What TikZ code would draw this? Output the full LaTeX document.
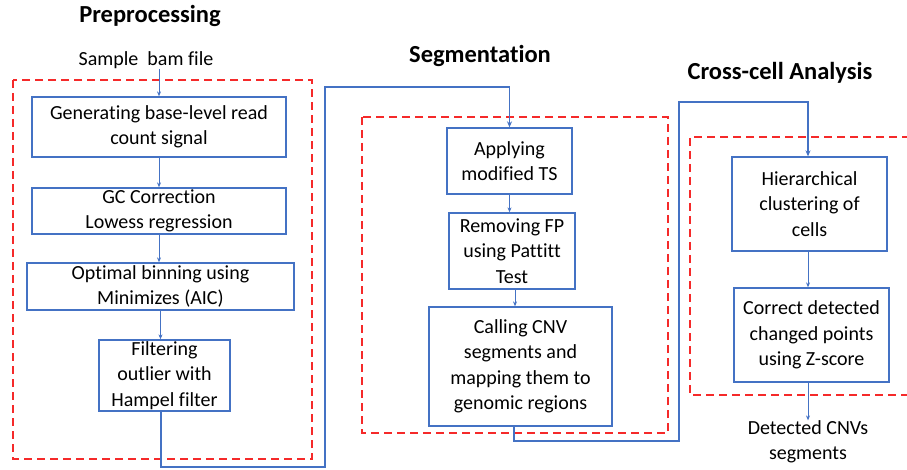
\documentclass[tikz,border=0pt]{standalone}
\usepackage{fontspec}
\setmainfont[Ligatures=CommonOff]{Carlito}
\usetikzlibrary{arrows.meta}
\definecolor{bl}{HTML}{4472C4}
\definecolor{rd}{HTML}{F52A2A}
\begin{document}
\begin{tikzpicture}[x=1pt,y=-1pt,
  box/.style={draw=bl, line width=1.3pt, align=center, inner sep=0pt, font=\fontsize{20}{25.5}\selectfont},
  grp/.style={draw=rd, line width=1.8pt, dash pattern=on 8pt off 5pt},
  flow/.style={draw=bl, line width=1.6pt, -{Stealth[length=6pt,width=5pt]}},
  arr/.style={draw=bl, line width=1pt, -{Stealth[length=5pt,width=4pt]}},
  ttl/.style={font=\fontsize{24.5}{28}\selectfont\bfseries, inner sep=0pt},
  lbl/.style={font=\fontsize{20}{25.5}\selectfont, align=center, inner sep=0pt}]
\useasboundingbox (0,0) rectangle (907,470);

% titles
\node[ttl] (t1) at (150,16) {Preprocessing};
\node[ttl] (t2) at (480,56) {Segmentation};
\node[ttl] (t3) at (780,73) {Cross-cell Analysis};

% dashed groups
\draw[grp] (13,80) rectangle (312,459);
\draw[grp] (362,117) rectangle (668,433);
\draw[grp] (910,137) -- (690,137) -- (690,395) -- (910,395);

% preprocessing
\node[lbl] (sam) at (146,60) {Sample\ \ bam file};
\node[box, minimum width=254, minimum height=60] (gen) at (159,127) {Generating base-level read\\count signal};
\node[box, minimum width=254, minimum height=46] (gc) at (159,211) {GC Correction\\Lowess regression};
\node[box, minimum width=267, minimum height=47] (opt) at (160.5,286.5) {Optimal binning using\\Minimizes (AIC)};
\node[box, minimum width=131, minimum height=71] (fil) at (164.5,375.5) {Filtering\\outlier with\\Hampel filter};

% segmentation
\node[box, minimum width=125, minimum height=66] (app) at (509.5,161) {Applying\\modified TS};
\node[box, minimum width=126, minimum height=76] (rem) at (512,251) {Removing FP\\using Pattitt\\Test};
\node[box, minimum width=183, minimum height=119] (cal) at (520.5,366.5) {Calling CNV\\segments and\\mapping them to\\genomic regions};

% cross-cell
\node[box, minimum width=155, minimum height=94] (hie) at (809.5,204) {Hierarchical\\clustering of\\cells};
\node[box, minimum width=155, minimum height=94] (cor) at (811.5,335) {Correct detected\\changed points\\using Z-score};
\node[lbl] (det) at (808,442) {Detected CNVs\\segments};

% inner arrows
\coordinate (rs) at ([xshift=3]rem.south);
\draw[arr] (gen.north |- sam.south) -- (gen.north);
\draw[arr] (gen.south) -- (gc.north);
\draw[arr] (gc.south) -- (opt.north -| gc.south);
\draw[arr] (opt.south) -- (fil.north -| opt.south);
\draw[arr] (app.south) -- (rem.north -| app.south);
\draw[arr] (rs) -- (cal.north -| rs);
\draw[arr] (hie.south -| det.north) -- (cor.north -| det.north);
\draw[arr] (cor.south -| det.north) -- (det.north);

% long connectors
\coordinate (c1) at (325,467);
\coordinate (c2) at (325,87);
\coordinate (c3) at (679,441);
\coordinate (c4) at (679,102);
\draw[flow] ([xshift=-3.5]fil.south) |- (c1) -- (c2) -| (app.north);
\draw[flow] ([xshift=-6.5]cal.south) |- (c3) -- (c4) -| (hie.north -| det.north);
\end{tikzpicture}
\end{document}
